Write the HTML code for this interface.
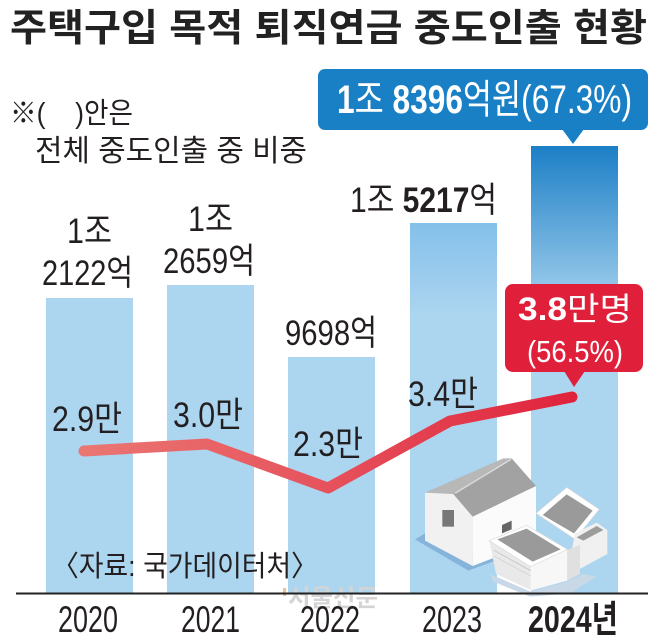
<!DOCTYPE html>
<html>
<head>
<meta charset="utf-8">
<style>
html,body{margin:0;padding:0;background:#fff;}
svg{display:block;}
text{font-family:"Liberation Sans","Noto Sans CJK KR",sans-serif;fill:#231f20;}
</style>
</head>
<body>
<svg width="663" height="638" viewBox="0 0 663 638" xmlns="http://www.w3.org/2000/svg">
<defs>
  <linearGradient id="g24" gradientUnits="userSpaceOnUse" x1="0" y1="146" x2="0" y2="593">
    <stop offset="0" stop-color="#1c7fc6"/>
    <stop offset="0.38" stop-color="#acd5f0"/>
    <stop offset="1" stop-color="#acd5f0"/>
  </linearGradient>
  <linearGradient id="g23" gradientUnits="userSpaceOnUse" x1="0" y1="223" x2="0" y2="593">
    <stop offset="0" stop-color="#84c0ea"/>
    <stop offset="0.25" stop-color="#acd5f0"/>
    <stop offset="1" stop-color="#acd5f0"/>
  </linearGradient>
  <linearGradient id="gline" gradientUnits="userSpaceOnUse" x1="84" y1="0" x2="572" y2="0">
    <stop offset="0" stop-color="#ea7672"/>
    <stop offset="0.5" stop-color="#e6525c"/>
    <stop offset="1" stop-color="#e0233c"/>
  </linearGradient>
</defs>

<!-- Title -->
<text x="10" y="41" font-size="38" font-weight="bold" textLength="637" lengthAdjust="spacingAndGlyphs" style="fill:#222">주택구입 목적 퇴직연금 중도인출 현황</text>

<!-- Note -->
<text x="10" y="123" font-size="29" textLength="123" lengthAdjust="spacingAndGlyphs">※(&#160;&#160;&#160;&#160;)안은</text>
<text x="35" y="161" font-size="30" textLength="272" lengthAdjust="spacingAndGlyphs">전체 중도인출 중 비중</text>

<!-- Bars -->
<rect x="46" y="298" width="87" height="295" fill="#acd5f0"/>
<rect x="167" y="285" width="87" height="308" fill="#acd5f0"/>
<rect x="288" y="357" width="87" height="236" fill="#acd5f0"/>
<rect x="410" y="223" width="87" height="370" fill="url(#g23)"/>
<rect x="531" y="146" width="87" height="447" fill="url(#g24)"/>

<!-- Bar labels -->
<text x="67" y="243" font-size="35" textLength="45" lengthAdjust="spacingAndGlyphs">1조</text>
<text x="42" y="285" font-size="35" textLength="91" lengthAdjust="spacingAndGlyphs">2122억</text>
<text x="188" y="231" font-size="35" textLength="45" lengthAdjust="spacingAndGlyphs">1조</text>
<text x="163" y="273" font-size="35" textLength="92" lengthAdjust="spacingAndGlyphs">2659억</text>
<text x="285" y="345" font-size="35" textLength="92" lengthAdjust="spacingAndGlyphs">9698억</text>
<text x="350" y="212" font-size="35" textLength="147" lengthAdjust="spacingAndGlyphs">1조 <tspan font-weight="bold">5217</tspan>억</text>

<!-- Blue callout -->
<rect x="318" y="69" width="330" height="61" rx="7" ry="7" fill="#1a80c6"/>
<polygon points="562,129 584,129 573,144" fill="#1a80c6"/>
<text x="337" y="113" font-size="40" textLength="295" lengthAdjust="spacingAndGlyphs" style="fill:#fff"><tspan font-weight="bold" style="fill:#fff">1</tspan>조 <tspan font-weight="bold" style="fill:#fff">8396</tspan>억원(67.3%)</text>

<!-- Line -->
<polyline points="84,451 207,444 328,488 450,421 572,397" fill="none" stroke="url(#gline)" stroke-width="11" stroke-linecap="round" stroke-linejoin="round"/>

<!-- Line labels -->
<text x="52" y="431" font-size="35" textLength="70" lengthAdjust="spacingAndGlyphs">2.9만</text>
<text x="173" y="427" font-size="35" textLength="70" lengthAdjust="spacingAndGlyphs">3.0만</text>
<text x="293" y="456" font-size="35" textLength="70" lengthAdjust="spacingAndGlyphs">2.3만</text>
<text x="408" y="406" font-size="35" textLength="70" lengthAdjust="spacingAndGlyphs">3.4만</text>

<!-- Red callout -->
<rect x="505" y="284" width="138" height="88" rx="8" ry="8" fill="#e01f3a"/>
<polygon points="564,371 585,371 574,387" fill="#e01f3a"/>
<text x="518" y="320" font-size="32" textLength="114" lengthAdjust="spacingAndGlyphs" style="fill:#fff"><tspan font-weight="bold" style="fill:#fff">3.8</tspan>만명</text>
<text x="527" y="362" font-size="31" textLength="96" lengthAdjust="spacingAndGlyphs" style="fill:#fff">(56.5%)</text>

<!-- House & money illustration -->
<g transform="translate(410,450) scale(0.33333)">
  <polygon points="15,268 45,250 262,330 175,362" fill="#86b3da"/>
  <polygon points="240,372 362,425 472,395 520,372 560,380 480,430 360,440 250,395" fill="#c9d8e6"/>
  <polygon points="45,128 130,132 188,200 188,348 45,272" fill="#f1f1f1"/>
  <polygon points="188,200 378,108 378,275 188,348" fill="#fbfbfb"/>
  <polygon points="45,128 280,25 305,25 130,132" fill="#b8b8b8"/>
  <polygon points="130,132 305,25 378,108 188,200" fill="#a2a2a2"/>
  <line x1="135" y1="130" x2="303" y2="28" stroke="#dcdcdc" stroke-width="4"/>
  <rect x="97" y="180" width="35" height="50" fill="#777"/>
  <polygon points="276,225 305,212 305,238 276,250" fill="#666"/>
  <polygon points="378,190 470,112 568,178 495,268" fill="#fff" stroke="#d6d6d6" stroke-width="2"/>
  <polygon points="398,195 470,133 548,182 492,250" fill="#9a9a9a"/>
  <polygon points="495,250 560,218 592,240 592,312 500,362 478,340" fill="#f0f0f0"/>
  <polygon points="500,262 560,228 580,240 520,272" fill="#9c9c9c"/>
  <polygon points="238,272 362,350 362,420 258,372" fill="#e9e9e9"/>
  <polygon points="362,350 472,298 472,392 362,422" fill="#f7f7f7"/>
  <polygon points="472,300 510,284 510,372 472,392" fill="#e0e0e0"/>
  <polygon points="238,272 350,226 472,298 362,350" fill="#fff" stroke="#dadada" stroke-width="2"/>
  <polygon points="262,268 350,236 452,298 368,335" fill="#9a9a9a"/>
  <line x1="250" y1="300" x2="362" y2="362" stroke="#bbb" stroke-width="2"/>
  <line x1="252" y1="318" x2="362" y2="378" stroke="#ccc" stroke-width="2"/>
</g>

<!-- Source -->
<text x="52" y="576" font-size="29" textLength="266" lengthAdjust="spacingAndGlyphs">〈자료: 국가데이터처〉</text>

<!-- Watermark -->
<text x="288" y="606" font-size="24" font-weight="bold" textLength="90" lengthAdjust="spacingAndGlyphs" style="fill:#d4d4d4">서울신문</text>
<rect x="283" y="588" width="3" height="8" fill="#f0c090"/>

<!-- Axis -->
<line x1="16" y1="593.5" x2="648" y2="593.5" stroke="#222" stroke-width="2"/>

<!-- Years -->
<text x="58" y="632" font-size="37" textLength="60" lengthAdjust="spacingAndGlyphs">2020</text>
<text x="181" y="632" font-size="37" textLength="59" lengthAdjust="spacingAndGlyphs">2021</text>
<text x="300" y="632" font-size="37" textLength="60" lengthAdjust="spacingAndGlyphs">2022</text>
<text x="422" y="632" font-size="37" textLength="60" lengthAdjust="spacingAndGlyphs">2023</text>
<text x="528" y="632" font-size="37" font-weight="bold" textLength="90" lengthAdjust="spacingAndGlyphs">2024년</text>
</svg>
</body>
</html>
